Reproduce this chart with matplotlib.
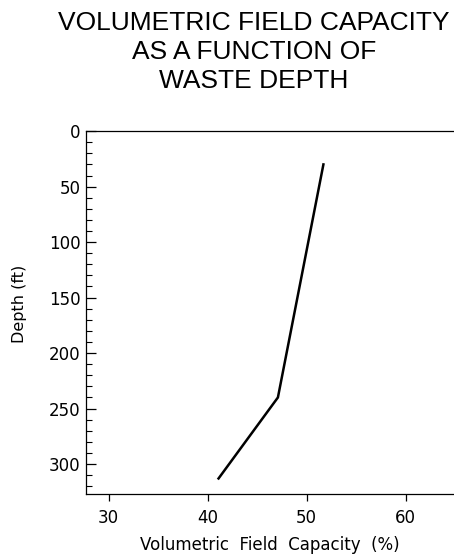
import matplotlib
matplotlib.use("Agg")
from matplotlib import pyplot as plt
from matplotlib.ticker import MultipleLocator

# data
capacity = [51.7, 47.1, 41.1]   # volumetric field capacity (%)
depth = [30, 240, 313]          # depth (ft)
xticks = [30, 40, 50, 60]
yticks = [0, 50, 100, 150, 200, 250, 300]

fig = plt.figure(figsize=(4.54, 5.54), dpi=100)
ax = fig.add_axes([0.1894, 0.1083, 0.8106, 0.655])

ax.plot(capacity, depth, color='k', linewidth=1.8)

ax.set_xlim(27.7, 64.9)
ax.set_ylim(327, 0)
ax.set_xticks(xticks)
ax.set_yticks(yticks)
ax.yaxis.set_minor_locator(MultipleLocator(10))

ax.spines['right'].set_visible(False)
ax.tick_params(axis='x', direction='out', length=5, width=0.9, labelsize=12, pad=6)
ax.tick_params(axis='y', which='major', direction='in', length=7, width=0.9, labelsize=12, pad=4)
ax.tick_params(axis='y', which='minor', direction='in', length=4, width=0.8)
for s in ['left', 'top', 'bottom']:
    ax.spines[s].set_linewidth(0.9)

ax.set_xlabel('Volumetric  Field  Capacity  (%)', fontsize=12, labelpad=6)
ax.set_ylabel('Depth (ft)', fontsize=11.5)
ax.yaxis.set_label_coords(-0.16, 0.523)

fig.text(0.559, 0.906, 'VOLUMETRIC FIELD CAPACITY\nAS A FUNCTION OF\nWASTE DEPTH',
         ha='center', va='center', fontsize=19, family='Liberation Sans',
         linespacing=1.25)

fig.savefig('out.png', dpi=100)
